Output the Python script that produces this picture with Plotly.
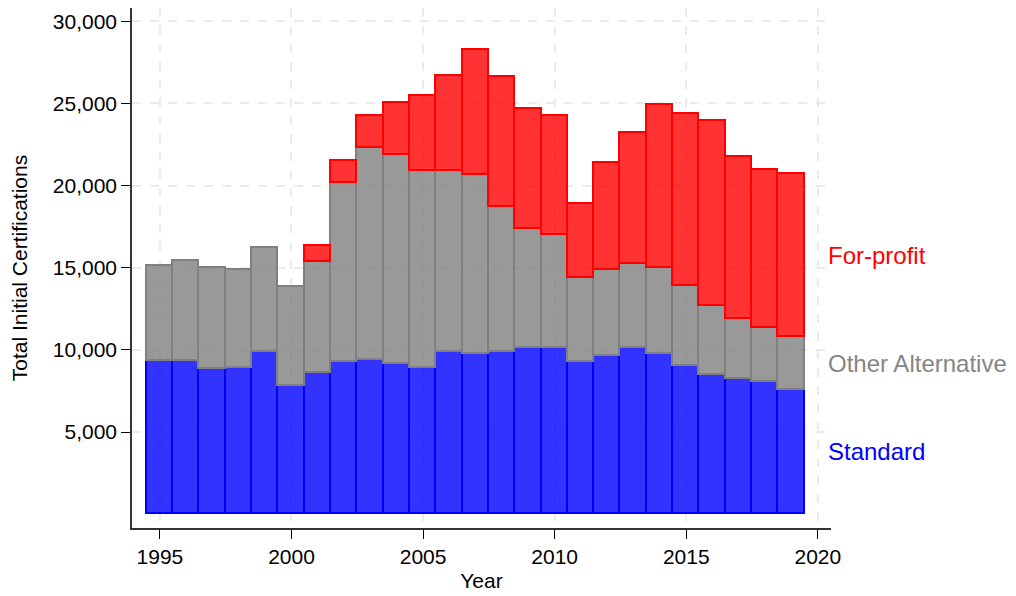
import plotly.graph_objects as go

years = list(range(1995, 2020))
standard = [9320, 9340, 8850, 8890, 9890, 7800, 8610, 9280, 9400, 9150, 8910, 9850, 9760,
            9890, 10110, 10110, 9280, 9640, 10110, 9760, 9030, 8470, 8240, 8040, 7570]
other_alt = [5800, 6080, 6110, 5980, 6320, 6000, 6710, 10850, 12880, 12680, 11990, 11050, 10860,
             8780, 7220, 6860, 5070, 5220, 5110, 5200, 4850, 4200, 3650, 3310, 3230]
for_profit = [0, 0, 0, 0, 0, 0, 1010, 1340, 1960, 3180, 4560, 5770, 7650,
              7910, 7340, 7230, 4540, 6520, 7990, 9950, 10480, 11270, 9860, 9590, 9910]

series = [
    ("Standard", standard, "rgba(0,0,255,0.8)", "#0000ff", "#0000ff"),
    ("Other Alternative", other_alt, "rgba(128,128,128,0.8)", "#808080", "#858585"),
    ("For-profit", for_profit, "rgba(255,0,0,0.8)", "#ff0000", "#ff0000"),
]

fig = go.Figure()
for name, vals, fill, line, _ in series:
    widths = [1.6 if v > 0 else 0 for v in vals]
    fig.add_trace(go.Bar(x=years, y=vals, name=name, width=1,
                         marker=dict(color=fill, line=dict(color=line, width=widths))))

# label positions at the middle of the last bar's segments
base = 0
annotations = []
for name, vals, _, _, tcol in series:
    mid = base + vals[-1] / 2
    base += vals[-1]
    annotations.append(dict(x=2020.3, y=mid, xref="x", yref="y", text=name, showarrow=False,
                            xanchor="left", yanchor="middle",
                            font=dict(size=24, color=tcol, family="Liberation Sans, Arial")))

fig.update_layout(
    barmode="stack", bargap=0, showlegend=False,
    width=1016, height=596,
    margin=dict(l=124, r=193, t=0, b=76),
    plot_bgcolor="white", paper_bgcolor="white",
    font=dict(family="Liberation Sans, Arial", size=21, color="black"),
    annotations=annotations,
)
fig.update_xaxes(range=[1993.94, 2020.5], tickvals=[1995, 2000, 2005, 2010, 2015, 2020],
                 ticks="outside", ticklen=9, tickcolor="black", tickwidth=1.2,
                 showline=True, linecolor="#333333", linewidth=1.5,
                 showgrid=True, gridcolor="#ebebeb", griddash="dash", gridwidth=1.5,
                 zeroline=False, automargin=False,
                 title=dict(text="Year", font=dict(size=21), standoff=6))
fig.update_yaxes(range=[-840, 30800], tickvals=[5000, 10000, 15000, 20000, 25000, 30000],
                 tickformat=",d", ticks="outside", ticklen=9, tickcolor="black", tickwidth=1.2,
                 showline=True, linecolor="#333333", linewidth=1.5,
                 showgrid=True, gridcolor="#ebebeb", griddash="dash", gridwidth=1.5,
                 zeroline=False, automargin=False,
                 title=dict(text="Total Initial Certifications", font=dict(size=21), standoff=22))

fig.write_html("out.html")
